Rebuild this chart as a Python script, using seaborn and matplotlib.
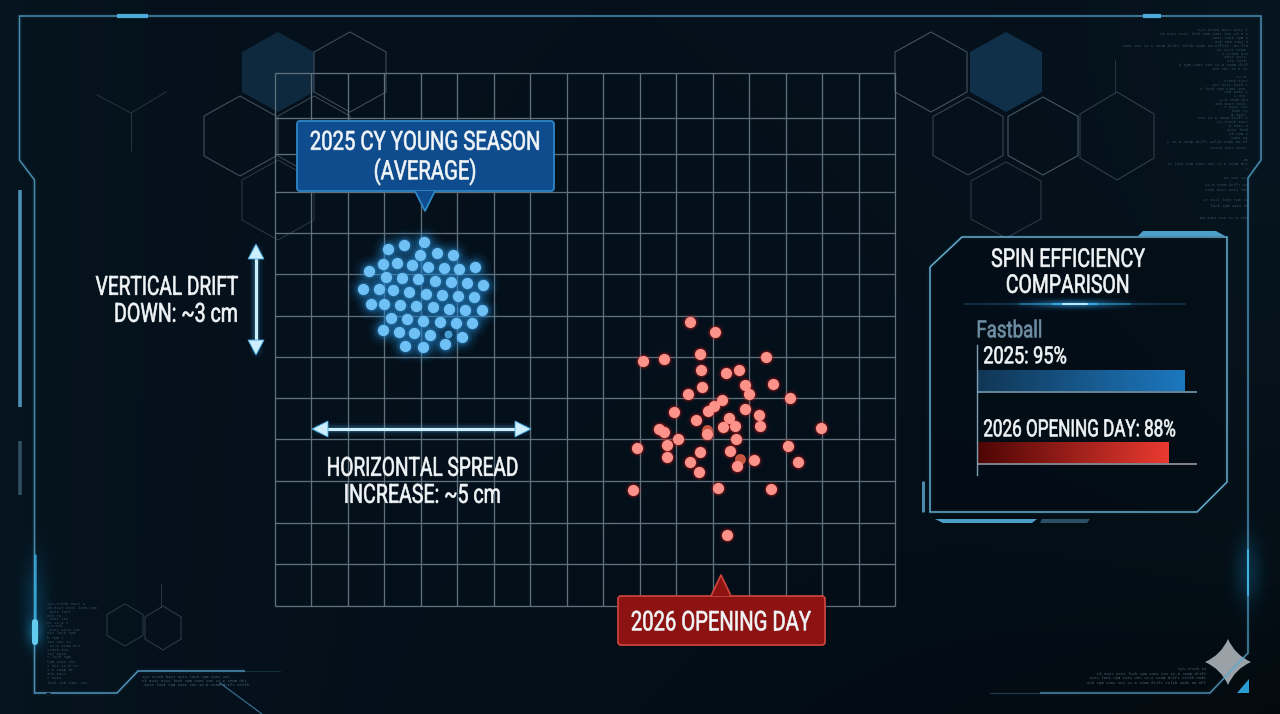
import numpy as np
import pandas as pd
import matplotlib
matplotlib.use("Agg")
import matplotlib.pyplot as plt
import seaborn as sns
from matplotlib.patches import FancyBboxPatch, Polygon, PathPatch
from matplotlib.path import Path
from matplotlib.colors import to_rgb, LinearSegmentedColormap
from matplotlib.patheffects import AbstractPathEffect
from matplotlib.transforms import Affine2D

# ---------- data ----------
blue_x = [388, 404, 424, 420, 437, 453, 383, 397, 412, 428, 444, 459, 475, 369,
          386, 402, 418, 435, 451, 467, 483, 363, 379, 393, 409, 426, 442, 458, 474,
          371, 384, 400, 416, 433, 449, 465, 482, 391, 407, 423, 440, 456, 472,
          383, 399, 414, 430, 462, 445, 405, 423]
blue_y = [249, 245, 242, 255, 253, 255, 264, 263, 265, 267, 268, 269, 267, 271,
          277, 278, 279, 281, 282, 283, 285, 289, 289, 290, 292, 294, 295, 296, 297,
          304, 304, 305, 306, 307, 309, 310, 310, 318, 319, 321, 322, 323, 323,
          330, 332, 333, 335, 337, 344, 346, 347]
blue_faint_x = [448]
blue_faint_y = [334]

red_x = [690, 715, 700, 766, 643, 664, 701, 726, 739, 702, 688, 745, 749, 773, 790,
         722, 714, 708, 745, 674, 759, 760, 696, 729, 723, 735, 659, 664, 707, 821,
         678, 736, 667, 637, 788, 700, 730, 667, 690, 754, 737, 798, 699, 718, 771,
         633, 727]
red_y = [322, 332, 354, 357, 361, 359, 370, 373, 370, 387, 394, 385, 394, 384, 398,
         400, 406, 411, 409, 412, 415, 426, 420, 418, 427, 426, 429, 432, 434, 428,
         439, 439, 445, 448, 446, 452, 451, 457, 462, 460, 466, 462, 472, 488, 489,
         490, 535]
red_faint_x = [707, 740]
red_faint_y = [430, 459]

efficiency_labels = ["2025", "2026 OPENING DAY"]
efficiency_values = [95, 88]

grid_columns = 17
grid_rows_y = [73, 118, 154, 192, 233, 274, 316, 357, 398, 439, 481, 523, 564, 606]

# ---------- theme ----------
sns.set_theme(style="dark")
plt.rcParams["font.family"] = ["Roboto", "Liberation Sans", "DejaVu Sans"]
WHITE = "#f1f5f7"

fig = plt.figure(figsize=(12.8, 7.14), dpi=100, facecolor="#04101a")
ax = fig.add_axes([0, 0, 1, 1])
ax.set_axis_off()


class Condensed(AbstractPathEffect):
    """Squeezes a text run horizontally to a given pixel width and thickens its strokes."""

    def __init__(self, width_px, align=0.5, stroke=0.45):
        super().__init__()
        self.width_px = width_px
        self.align = align
        self.stroke = stroke

    def draw_path(self, renderer, gc, tpath, affine, rgbFace=None):
        box = tpath.get_extents()
        unit = affine.get_matrix()[0, 0]
        sx = self.width_px / (box.width * unit)
        squeeze = Affine2D().translate(-box.x0, 0).scale(sx, 1).translate(
            box.x0 + self.align * (box.width - box.width * sx), 0)
        pen = renderer.new_gc()
        pen.copy_properties(gc)
        pen.set_linewidth(self.stroke)
        pen.set_foreground(rgbFace)
        renderer.draw_path(pen, tpath, squeeze + affine, rgbFace)
        pen.restore()


def label(x, y, s, width_px, size, ha="center", color=WHITE):
    align = {"left": 0.0, "center": 0.5, "right": 1.0}[ha]
    t = ax.text(x, y + 1.8, s, color=color, fontsize=size, ha=ha, va="center", zorder=8)
    t.set_path_effects([Condensed(width_px, align)])
    return t


def blob(cx, cy, rx, ry, color, alpha, z=1):
    """Soft elliptical light spot."""
    u = np.linspace(-1, 1, 81)
    xx, yy = np.meshgrid(u, u)
    a = np.exp(-4.5 * (xx ** 2 + yy ** 2)) * alpha
    img = np.zeros((81, 81, 4))
    img[..., :3] = to_rgb(color)
    img[..., 3] = a
    ax.imshow(img, extent=(cx - rx, cx + rx, cy + ry, cy - ry), aspect="auto", zorder=z,
              interpolation="bilinear")


def glow_line(xs, ys, color, lw=1.1, alpha=1.0, glow=0.05, z=4):
    ax.plot(xs, ys, color=color, lw=lw + 2.5, alpha=glow, solid_capstyle="butt", zorder=z)
    ax.plot(xs, ys, color=color, lw=lw, alpha=alpha, solid_capstyle="butt",
            solid_joinstyle="miter", zorder=z + 0.1)


def hexagon(cx, cy, r, hw=None, fill=None, edge="#4a5a66", lw=0.8, alpha=1.0, z=2):
    hw = hw or r * 0.886
    pts = [(cx, cy - r), (cx + hw, cy - r / 2), (cx + hw, cy + r / 2),
           (cx, cy + r), (cx - hw, cy + r / 2), (cx - hw, cy - r / 2)]
    ax.add_patch(Polygon(pts, closed=True, facecolor=fill or "none",
                         edgecolor=edge if fill is None else "none",
                         lw=lw, alpha=alpha, zorder=z))


# ---------- backdrop ----------
h, w = 357, 640
yy, xx = np.mgrid[0:h, 0:w]
nx, ny = xx / (w - 1), yy / (h - 1)
edge = np.clip(np.abs(nx - 0.48) * 2, 0, 1) ** 3
tone = (1 - edge)[..., None] * np.array(to_rgb("#04101b")) + edge[..., None] * np.array(to_rgb("#06151f"))
tone = tone * (1 - 0.5 * (ny * nx)[..., None] ** 2)
ax.imshow(tone, extent=(0, 1280, 714, 0), aspect="auto", zorder=0)

# ---------- hexagon lattice ----------
hexagon(278, 72, 40, 36, fill="#0f2a40", alpha=0.95)
hexagon(1006, 72, 40, 36, fill="#10304a")
for cx, cy, r, hw, a in [(350, 72, 40, 36, 0.8), (240, 136, 40, 36, 0.85), (278, 200, 40, 36, 0.5),
                         (314, 136, 40, 36, 0.7), (931, 72, 40, 36, 0.9), (968, 136, 39, 35, 0.7),
                         (1043, 136, 39, 35, 0.95), (1006, 200, 38, 35, 0.55), (1117, 136, 44, 37, 0.6),
                         (125, 625, 21, 18, 0.5), (163, 628, 22, 18, 0.55)]:
    hexagon(cx, cy, r, hw, alpha=a)
for xs, ys in [([131, 97], [113, 95]), ([131, 166], [113, 92]), ([131, 131], [113, 151]),
               ([1115, 1115], [92, 60]), ([161, 161], [607, 584])]:
    ax.plot(xs, ys, color="#3d4d58", lw=0.7, alpha=0.6, zorder=2)

# ---------- measurement grid ----------
grid_x = np.linspace(275, 895, grid_columns + 1)
ax.vlines(grid_x, grid_rows_y[0], grid_rows_y[-1], color="#5e707b", lw=0.95, zorder=3)
ax.hlines(grid_rows_y, grid_x[0], grid_x[-1], color="#5e707b", lw=0.95, zorder=3)

# ---------- pitch locations ----------
pts_blue = pd.DataFrame({"x": blue_x, "y": blue_y})
pts_red = pd.DataFrame({"x": red_x, "y": red_y})
for s, a in ((520, 0.05), (340, 0.08), (200, 0.16), (110, 0.3)):
    sns.scatterplot(data=pts_blue, x="x", y="y", s=s, color="#2a8fd8", alpha=a, linewidth=0,
                    legend=False, ax=ax, zorder=5)
sns.scatterplot(data=pts_blue, x="x", y="y", s=66, color="#6fc0f5", linewidth=0, legend=False,
                ax=ax, zorder=6)
sns.scatterplot(x=blue_faint_x, y=blue_faint_y, s=34, color="#4a9fd3", linewidth=0, legend=False,
                ax=ax, zorder=6)

for s, a in ((170, 0.06), (115, 0.14), (84, 0.28)):
    sns.scatterplot(data=pts_red, x="x", y="y", s=s, color="#e3201b", alpha=a, linewidth=0,
                    legend=False, ax=ax, zorder=5)
sns.scatterplot(x=red_faint_x, y=red_faint_y, s=62, color="#c8553f", linewidth=0, legend=False,
                ax=ax, zorder=5.5)
sns.scatterplot(data=pts_red, x="x", y="y", s=64, color="#fb938a", linewidth=0, legend=False,
                ax=ax, zorder=6)

# ---------- callouts ----------
def callout(x0, y0, x1, y1, tri, fill, edge):
    ax.add_patch(FancyBboxPatch((x0 + 3, y0 + 3), x1 - x0 - 6, y1 - y0 - 6,
                                boxstyle="round,pad=3,rounding_size=3", facecolor=fill,
                                edgecolor=edge, lw=1.3, zorder=7))
    ax.add_patch(Polygon(tri, closed=True, facecolor=fill, edgecolor="none", zorder=7.1))
    ax.plot([tri[0][0], tri[1][0], tri[2][0]], [tri[0][1], tri[1][1], tri[2][1]],
            color=edge, lw=1.3, zorder=7.2)


callout(297, 121, 554, 191, [(415, 191), (425, 211), (435, 191)], "#0e4c8e", "#2e86c6")
callout(618, 596, 825, 645, [(711, 596), (721, 575), (731, 596)], "#8d1313", "#c9433d")
label(425, 141, "2025 CY YOUNG SEASON", 228, 19)
label(425, 170, "(AVERAGE)", 100, 19)
label(721, 621, "2026 OPENING DAY", 179, 19.5)

# ---------- drift annotations ----------
ARROW = "#cdeefc"
for w_, a in ((9, 0.08), (5.5, 0.16)):
    ax.plot([256, 256], [250, 350], color="#43aee8", lw=w_, alpha=a, zorder=4)
    ax.plot([318, 525], [429, 429], color="#43aee8", lw=w_, alpha=a, zorder=4)
ax.plot([256, 256], [255, 345], color=ARROW, lw=2.3, zorder=5)
ax.plot([324, 520], [429, 429], color=ARROW, lw=2.3, zorder=5)
heads = [[(256, 244), (248, 259), (264, 259)], [(256, 355), (248, 340), (264, 340)],
         [(312, 429), (328, 421), (328, 437)], [(531, 429), (515, 421), (515, 437)]]
for tri in heads:
    ax.add_patch(Polygon(tri, closed=True, facecolor=ARROW, edgecolor="#3fa6df", lw=0.6, zorder=5.2))
label(238, 286, "VERTICAL DRIFT", 142, 19, ha="right")
label(238, 313, "DOWN: ~3 cm", 121, 19, ha="right")
label(422, 467, "HORIZONTAL SPREAD", 189, 19)
label(422, 494, "INCREASE: ~5 cm", 154, 19)

# ---------- outer frame ----------
FRAME = "#5aa9d2"
glow_line([34.5, 34.5, 19.5, 19.5, 1261, 1261, 1248, 1248, 1210, 1040],
          [560, 180, 160, 16, 16, 160, 178, 653, 693, 693], FRAME, lw=1.1, alpha=0.8)
glow_line([34.5, 34.5, 117, 138, 245], [560, 693, 693, 671, 671], FRAME, lw=1.1, alpha=0.85)
ax.plot([220, 262], [683, 714], color=FRAME, lw=0.9, alpha=0.6, zorder=4)
ax.plot([245, 280], [671, 671], color=FRAME, lw=0.8, alpha=0.2, zorder=4)
ax.plot([1040, 990], [693, 693], color=FRAME, lw=0.9, alpha=0.3, zorder=4)
for xs, ys, lw, c in [([117, 148], [16, 16], 3, "#4eaad8"), ([1143, 1161], [16, 16], 3, "#4eaad8"),
                      ([19.5, 19.5], [190, 407], 2.6, "#4d91b5"), ([19.5, 19.5], [441, 495], 2.6, "#2f4e60"),
                      ([46, 50], [693, 693], 1, "#04101a")]:
    ax.plot(xs, ys, color=c, lw=lw, solid_capstyle="butt", zorder=4.5)
ax.plot([34.5, 34.5], [555, 618], color="#37b8ea", lw=1.8, alpha=0.75, zorder=4.5)
ax.plot([34.5, 34.5], [622, 642], color="#63cbee", lw=4.4, solid_capstyle="round", zorder=4.6)
blob(34.5, 600, 26, 90, "#1689c4", 0.22)
blob(34.5, 632, 18, 30, "#29a8e0", 0.35)
ax.plot([1248, 1248], [550, 595], color="#3fc0ee", lw=1.5, alpha=0.8, zorder=4.5)
blob(1248, 571, 30, 70, "#1689c4", 0.25)

star_c = np.array([1228, 662])
star = np.array([(0, -23), (7, -7), (23, 0), (7, 7), (0, 23), (-7, 7), (-23, 0), (-7, -7), (0, -23)]) + star_c
codes = [Path.MOVETO] + [Path.CURVE3] * 8
ax.add_patch(PathPatch(Path(star, codes), facecolor="#9aa2a8", edgecolor="none", zorder=3.8))
ax.add_patch(Polygon([(1237, 693), (1249, 679), (1249, 693)], closed=True, facecolor="#2b9bd2",
                     edgecolor="none", zorder=4.5))

# ---------- faint system readouts ----------
READOUT = ("sys.track 0417 axis lock rpm 2481 vec 12.6 seam drift calib node 88 offset -03 "
           "frame 2026 buffer ok release 6.2 tilt 1:15 sample 0095 ")
MONO = ["Liberation Mono", "DejaVu Sans Mono"]


def readout_block(x, rows, ha, color="#4a6a7c", size=2.9):
    for i, (y, n) in enumerate(rows):
        shift = (i * 7) % 40
        ax.text(x, y, READOUT[shift:shift + n], color=color, fontsize=size, family=MONO,
                ha=ha, va="center", zorder=3, alpha=0.7)


readout_block(1248, [(30, 21), (34, 37), (38, 16), (42, 14), (46, 54), (50, 13), (54, 11), (57, 11),
                     (61, 9), (65, 29), (69, 15), (77, 6), (81, 10), (85, 15), (89, 20), (92, 10),
                     (96, 6), (100, 12), (104, 14), (107, 10), (111, 7), (115, 7), (118, 21), (122, 13),
                     (126, 8), (130, 9), (134, 8), (138, 7), (142, 34), (148, 17), (160, 2), (164, 34),
                     (169, 2), (178, 10), (185, 18), (190, 18), (200, 19), (206, 17), (218, 20)], "right")
readout_block(47, [(604, 16), (608, 22), (612, 11), (616, 6), (619, 10), (623, 9), (626, 7), (630, 14),
                   (633, 13), (638, 7), (642, 11), (646, 14), (650, 9), (654, 8), (657, 10), (662, 12),
                   (666, 13), (670, 11), (674, 9), (678, 7), (683, 18)], "left")
readout_block(142, [(677, 38), (681, 44), (685, 46)], "left", color="#6a8797")
readout_block(1206, [(669, 12), (674, 46), (678, 50), (683, 50)], "right", color="#6a8797")

# ---------- spin efficiency panel ----------
panel_pts = [(930, 267), (962, 237), (1227, 237), (1227, 482), (1197, 512), (930, 512), (930, 267)]
ax.add_patch(Polygon(panel_pts, closed=True, facecolor="#030c15", edgecolor="none", alpha=0.55, zorder=3.5))
glow_line([p[0] for p in panel_pts], [p[1] for p in panel_pts], "#6ab5d9", lw=1.1, alpha=0.95, z=5)
ax.add_patch(Polygon([(1138, 236), (1143, 231), (1216, 231), (1225, 236)], closed=True,
                     facecolor="#4c9fc9", edgecolor="none", zorder=5))
ax.plot([923, 923], [481, 512], color="#5aa9d2", lw=2.2, solid_capstyle="butt", alpha=0.8, zorder=5)
ax.add_patch(Polygon([(935, 519), (1037, 519), (1032, 523), (943, 523)], closed=True,
                     facecolor="#4c9fc9", edgecolor="none", zorder=5))
ax.add_patch(Polygon([(1042, 519), (1090, 519), (1087, 523), (1040, 523)], closed=True,
                     facecolor="#2b4f66", edgecolor="none", zorder=5))

label(1068, 258, "SPIN EFFICIENCY", 153, 18.5)
label(1068, 284, "COMPARISON", 121, 18.5)
for half, a in ((110, 0.25), (55, 0.45), (22, 0.9)):
    ax.plot([1075 - half, 1075 + half], [304, 304], color="#3fb2ee", lw=1.2, alpha=a, zorder=5)
ax.plot([1063, 1087], [304, 304], color="#bfeaff", lw=1.4, zorder=5.1)
blob(1075, 304, 90, 9, "#2b9fe0", 0.6, z=4)
label(976, 329, "Fastball", 63, 17, ha="left", color="#6e8ea3")
label(983, 355, "2025: 95%", 82, 17, ha="left")
label(983, 428, "2026 OPENING DAY: 88%", 191, 17, ha="left")

ax.set_xlim(0, 1280)
ax.set_ylim(714, 0)
ax.set(xlabel="", ylabel="")
ax.set_axis_off()

# Bars live in their own axes so their length follows the percentage scale.
bar_ax = fig.add_axes([977 / 1280, 1 - 475 / 714, 220 / 1280, 130 / 714])
bar_ax.patch.set_alpha(0)
bars_df = pd.DataFrame({"label": efficiency_labels, "value": efficiency_values})
sns.barplot(data=bars_df, x="value", y="label", orient="h", width=0.29, ax=bar_ax, legend=False,
            color="#1c76bb")
bar_ax.set_xlim(0, 100.9)
bar_ax.set_ylim((475 - 380.5) / 72, (345 - 380.5) / 72)
ramps = [("#113655", "#1c78bf", "#7fa9bf"), ("#4d0505", "#ea3a30", "#a7a2a8")]
for patch, (lo, hi, base) in zip(bar_ax.patches, ramps):
    x0, y0, bw, bh = patch.get_x(), patch.get_y(), patch.get_width(), patch.get_height()
    patch.set_facecolor("none")
    patch.set_edgecolor("none")
    cmap = LinearSegmentedColormap.from_list("ramp", [lo, hi])
    bar_ax.imshow(np.linspace(0, 1, 256)[None, :], cmap=cmap, aspect="auto",
                  extent=(x0, x0 + bw, y0 + bh, y0), zorder=2)
    bar_ax.hlines(y0 + bh + 0.012, 0, 100.9, color=base, lw=1.1, zorder=3)
bar_ax.set_xlim(0, 100.9)
bar_ax.set_ylim((475 - 380.5) / 72, (345 - 380.5) / 72)
bar_ax.set(xlabel="", ylabel="", xticks=[], yticks=[])
for name, spine in bar_ax.spines.items():
    spine.set_visible(name == "left")
bar_ax.spines["left"].set_color("#7fa0b2")
bar_ax.spines["left"].set_linewidth(1.0)
bar_ax.grid(False)

fig.savefig("out.png", dpi=100, facecolor=fig.get_facecolor())
